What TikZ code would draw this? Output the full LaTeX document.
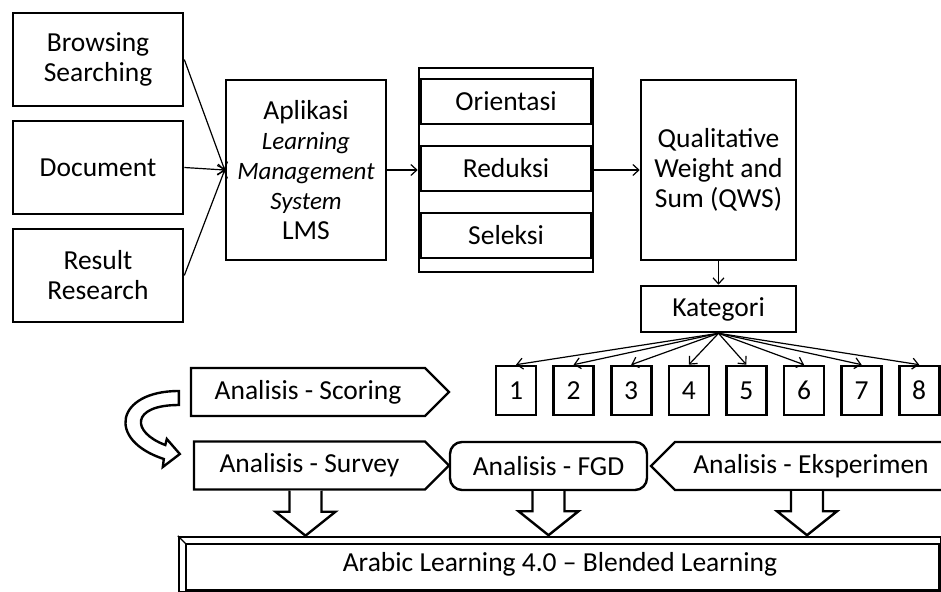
\documentclass[tikz,border=0pt]{standalone}
\usepackage{fontspec}
\setmainfont{Carlito}
\usetikzlibrary{positioning, arrows.meta, shapes.symbols, calc}
\newcommand{\lmsit}[1]{{\fontsize{25}{29}\selectfont\itshape #1}}

\begin{document}
\begin{tikzpicture}[x=1pt, y=-1pt,
      box/.style={draw, line width=2.6pt, align=center, inner sep=2pt, fill=white,
                  font=\fontsize{27.5}{30}\selectfont},
      numbox/.style={box, minimum width=40pt, minimum height=49pt},
      tag/.style={draw, line width=2.4pt, shape=signal, signal pointer angle=90,
                  minimum height=48pt, inner sep=2pt, font=\fontsize{27.5}{30}\selectfont},
      arr/.style={-{Straight Barb[length=6pt, width=11pt]}, line width=1.2pt},
      bigarr/.style={draw, fill=white, line width=2.4pt, line join=miter}]
    \useasboundingbox (0,0) rectangle (941,591);
    % sources
    \node[box, minimum width=170pt, minimum height=93pt] (brow) at (98,59.5) {Browsing\\Searching};
    \node[box, minimum width=170pt, minimum height=93pt, below=12.4pt of brow] (doc) {Document};
    \node[box, minimum width=170pt, minimum height=93pt, below=12.4pt of doc] (res) {Result\\Research};
    \node[box, minimum width=160pt, minimum height=180pt] (lms) at (306,170)
      {Aplikasi\\\lmsit{Learning}\\\lmsit{Management}\\\lmsit{System}\\LMS};
    % stages
    \node[box, minimum width=174pt, minimum height=204pt] (stage) at (506,170) {};
    \node[box, minimum width=171pt, minimum height=45pt] (ori) at (506,101.5) {Orientasi};
    \node[box, minimum width=171pt, minimum height=45pt, below=19.4pt of ori] (red) {Reduksi};
    \node[box, minimum width=171pt, minimum height=45pt, below=19.4pt of red] (sel) {Seleksi};
    \node[box, minimum width=155pt, minimum height=180pt] (qws) at (718.5,170)
      {Qualitative\\Weight and\\Sum (QWS)};
    \node[box, minimum width=155pt, minimum height=46pt, below=23.4pt of qws] (kat) {Kategori};
    % categories
    \node[numbox] (n1) at (516,390.5) {1};
    \node[numbox, right=15pt of n1] (n2) {2};
    \node[numbox, right=15pt of n2] (n3) {3};
    \node[numbox, right=15pt of n3] (n4) {4};
    \node[numbox, right=15pt of n4] (n5) {5};
    \node[numbox, right=15pt of n5] (n6) {6};
    \node[numbox, right=15pt of n6] (n7) {7};
    \node[numbox, right=15pt of n7] (n8) {8};
    % analyses
    \node[tag, signal to=east, minimum width=258pt] (scor) at (308,392) {Analisis - Scoring};
    \node[tag, signal to=east, minimum width=255pt] (surv) at (309.5,465.5) {Analisis - Survey};
    \node[box, line width=2.4pt, rounded corners=12pt, minimum width=197pt, minimum height=48pt]
      (fgd) at (548.5,466) {Analisis - FGD};
    \node[tag, signal to=west, minimum width=296pt] (eks) at (811,466) {Analisis - Eksperimen};
    \node[box, line width=2.4pt, minimum width=762pt, minimum height=55pt] (bar) at (560,564.5)
      {Arabic Learning 4.0 -- Blended Learning};
    \draw[line width=1.6pt] ([shift={(8pt,-8pt)}]bar.north west) rectangle ([shift={(-3pt,3pt)}]bar.south east);
    \draw[line width=1.2pt] (bar.north west) -- ([shift={(8pt,-8pt)}]bar.north west);

    \draw[arr] (brow.east) -- (lms.west);
    \draw[arr] (doc.east) -- (lms.west);
    \draw[arr] (res.east) -- (lms.west);
    \draw[arr] (lms.east) -- (stage.west);
    \draw[arr] (stage.east) -- (qws.west);
    \draw[arr] (qws.south) -- (kat.north);
    \draw[arr] (kat.south) -- (n1.north);
    \draw[arr] (kat.south) -- (n2.north);
    \draw[arr] (kat.south) -- (n3.north);
    \draw[arr] (kat.south) -- (n4.north);
    \draw[arr] (kat.south) -- (n5.north);
    \draw[arr] (kat.south) -- (n6.north);
    \draw[arr] (kat.south) -- (n7.north);
    \draw[arr] (kat.south) -- (n8.north);

    % turn arrow from scoring to survey
    \begin{scope}[shift={(scor.west)}]
      \draw[bigarr] (-11,-1) .. controls (-74,-1) and (-84,48) .. (-26,67) -- (-27,75) -- (-10,62)
        -- (-23,47) -- (-24.5,53) .. controls (-59,40) and (-59,13) .. (-11,13) -- cycle;
    \end{scope}
    % down arrows into the bar
    \draw[bigarr] ([xshift=-20pt]surv.south) -- ++(0,21) -- ++(-14,0) -- ++(30,24) -- ++(30,-24)
      -- ++(-14,0) -- ++(0,-21);
    \draw[bigarr] ([xshift=-16pt]fgd.south) -- ++(0,20) -- ++(-14,0) -- ++(30,24) -- ++(30,-24)
      -- ++(-14,0) -- ++(0,-20);
    \draw[bigarr] ([xshift=-20pt]eks.south) -- ++(0,20) -- ++(-14,0) -- ++(30,24) -- ++(30,-24)
      -- ++(-14,0) -- ++(0,-20);
  \end{tikzpicture}
\end{document}
